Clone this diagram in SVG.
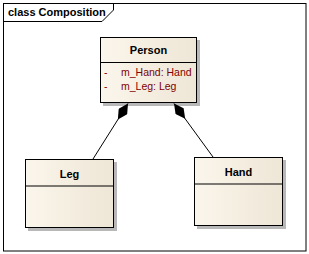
<svg xmlns="http://www.w3.org/2000/svg" width="309" height="254" viewBox="0 0 309 254">
<defs>
<linearGradient id="fill" x1="0" y1="0" x2="1" y2="0">
<stop offset="0" stop-color="#FBF6EC"/>
<stop offset="1" stop-color="#EEE6D6"/>
</linearGradient>
<marker id="diamond" viewBox="0 0 19 10" refX="0" refY="5" markerWidth="19" markerHeight="10" markerUnits="userSpaceOnUse" orient="auto">
<path d="M0,5 L9.5,0 L19,5 L9.5,10 Z" fill="#000"/>
</marker>
<style>
.frame{fill:none;stroke:#000;stroke-width:1}
.box{fill:url(#fill);stroke:#000;stroke-width:1}
.shadow{fill:#B8B8B8}
.div{stroke:#000;stroke-width:1}
.name{font-family:"Liberation Sans",Arial,sans-serif;font-size:11px;font-weight:bold;fill:#000;text-anchor:middle}
.attr{font-family:"Liberation Sans",Arial,sans-serif;font-size:10.5px;fill:#800000}
.title{font-family:"Liberation Sans",Arial,sans-serif;font-size:11px;font-weight:bold;fill:#000}
.conn{stroke:#000;stroke-width:1;fill:none}
</style>
</defs>
<rect width="309" height="254" fill="#fff"/>
<g id="frame">
<rect class="frame" x="3.5" y="3.5" width="302.5" height="247.5"/>
<path class="frame" d="M3.5,21.5 H102 L113.5,10 V3.5"/>
<text class="title" x="8" y="16">class Composition</text>
</g>
<g id="Person">
<rect class="shadow" x="103" y="40" width="97" height="66"/>
<rect class="box" x="100.5" y="37.5" width="96" height="65"/>
<line class="div" x1="100.5" y1="62.5" x2="196.5" y2="62.5"/>
<text class="name" x="148.5" y="54">Person</text>
<text class="attr" x="104" y="76">-</text>
<text class="attr" x="121" y="76">m_Hand:  Hand</text>
<text class="attr" x="104" y="90">-</text>
<text class="attr" x="121" y="90">m_Leg:  Leg</text>
</g>
<g id="Leg">
<rect class="shadow" x="28" y="162" width="89" height="69"/>
<rect class="box" x="25.5" y="159.5" width="88" height="68"/>
<line class="div" x1="25.5" y1="186" x2="113.5" y2="186"/>
<text class="name" x="69.5" y="178">Leg</text>
</g>
<g id="Hand">
<rect class="shadow" x="197" y="160" width="89" height="69"/>
<rect class="box" x="194.5" y="157.5" width="88" height="68"/>
<line class="div" x1="194.5" y1="184" x2="282.5" y2="184"/>
<text class="name" x="238.5" y="176">Hand</text>
</g>
<g id="connectors">
<line class="conn" x1="128" y1="103.5" x2="93" y2="159" marker-start="url(#diamond)"/>
<line class="conn" x1="174" y1="103.5" x2="213" y2="157" marker-start="url(#diamond)"/>
</g>
</svg>
